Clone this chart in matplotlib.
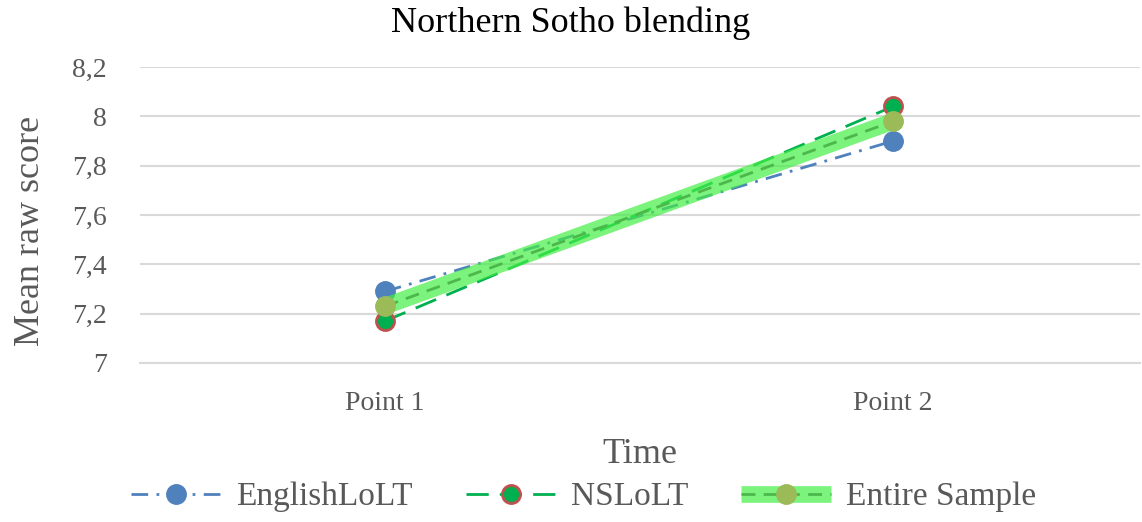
import matplotlib.pyplot as plt
from matplotlib.legend_handler import HandlerTuple
from matplotlib.ticker import FuncFormatter

# Data
categories = ["Point 1", "Point 2"]
english_lolt = [7.29, 7.90]
ns_lolt = [7.17, 8.04]
entire_sample = [7.23, 7.98]
y_ticks = [7.0, 7.2, 7.4, 7.6, 7.8, 8.0, 8.2]

plt.rcParams["font.family"] = ["Liberation Serif", "DejaVu Serif"]
grey = "#595959"

fig = plt.figure(figsize=(11.42, 5.22), dpi=100)
ax = fig.add_axes([0.1226, 0.3046, 0.8757, 0.567])

x = [0, 1]
ax.plot(x, english_lolt, color="#4f81bd", linestyle=(0, (6, 3, 1, 3)), linewidth=2,
        marker="o", markersize=14, markerfacecolor="#4f81bd", markeredgecolor="#4f81bd",
        zorder=3, label="EnglishLoLT")
ax.plot(x, ns_lolt, color="#00b050", linestyle=(0, (8, 4)), linewidth=2,
        marker="o", markersize=13, markerfacecolor="#00b050", markeredgecolor="#c0504d",
        markeredgewidth=2, zorder=4, label="NSLoLT")
glow, = ax.plot(x, entire_sample, color="#44ee44", alpha=0.7, linewidth=12,
                solid_capstyle="butt", zorder=5)
main, = ax.plot(x, entire_sample, color="#4cb84c", linestyle=(0, (5, 3)), linewidth=2,
                marker="o", markersize=14, markerfacecolor="#9bbb59",
                markeredgecolor="#9bbb59", zorder=6)

ax.set_xlim(-0.482, 1.486)
ax.set_ylim(7.0, 8.2)
ax.set_xticks(x)
ax.set_xticklabels(categories)
ax.set_yticks(y_ticks)
ax.yaxis.set_major_formatter(FuncFormatter(lambda v, p: f"{v:g}".replace(".", ",")))
ax.grid(axis="y", color="#d9d9d9", linewidth=1.5)
ax.set_axisbelow(True)
for s in ["top", "right", "left"]:
    ax.spines[s].set_visible(False)
ax.spines["bottom"].set_color("#d9d9d9")
ax.spines["bottom"].set_linewidth(1.5)
ax.tick_params(axis="both", length=0, labelsize=20, labelcolor=grey)
ax.tick_params(axis="y", pad=24)
ax.tick_params(axis="x", pad=20)

fig.text(0.5, 0.956, "Northern Sotho blending", ha="center", va="center",
         fontsize=26, color="black")
ax.set_xlabel("Time", fontsize=26, color=grey, labelpad=16)
ax.set_ylabel("Mean raw score", fontsize=26, color=grey)
ax.yaxis.set_label_coords(-0.093, 0.446)

handles = [ax.lines[0], ax.lines[1], (glow, main)]
labels = ["EnglishLoLT", "NSLoLT", "Entire Sample"]
fig.legend(handles, labels, loc="center", bbox_to_anchor=(0.511, 0.048), ncol=3,
           frameon=False, fontsize=24, labelcolor=grey, handlelength=2.7,
           handletextpad=0.45, columnspacing=1.6,
           handler_map={tuple: HandlerTuple(ndivide=1)})

fig.savefig("out.png", dpi=100)
